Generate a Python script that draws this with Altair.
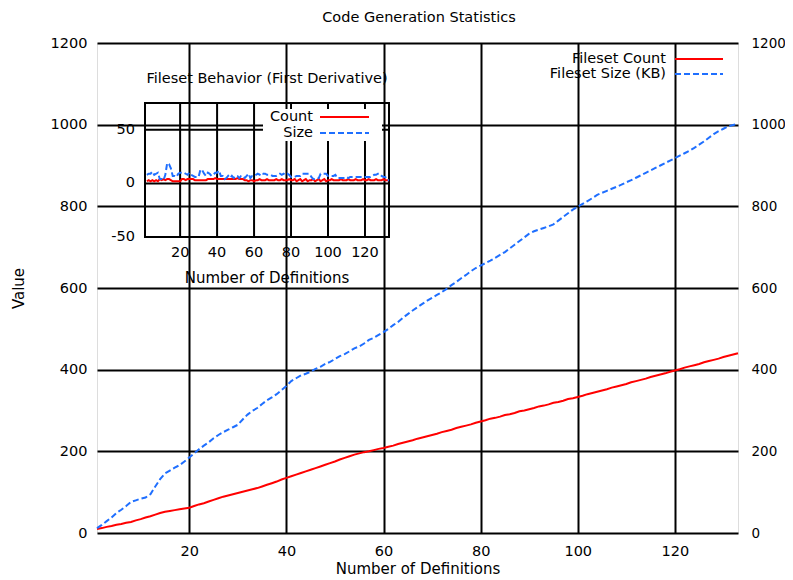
import altair as alt
import pandas as pd

# ---------------- data ----------------
definitions = list(range(1, 134))
fileset_count = [10, 12, 15, 17, 20, 22, 25, 27, 31, 34,
                 38, 41, 45, 49, 52, 54, 56, 58, 60, 62,
                 66, 70, 73, 77, 81, 85, 89, 92, 95, 98,
                 101, 104, 107, 110, 114, 118, 122, 126, 131, 135,
                 139, 143, 147, 151, 155, 159, 163, 167, 171, 175,
                 180, 184, 188, 192, 195, 198, 200, 203, 206, 208,
                 211, 214, 218, 221, 224, 227, 231, 234, 237, 240,
                 243, 247, 250, 253, 257, 260, 263, 266, 270, 273,
                 276, 280, 282, 285, 289, 291, 294, 298, 300, 303,
                 306, 310, 312, 315, 319, 321, 324, 328, 330, 333,
                 336, 340, 343, 346, 349, 352, 356, 359, 362, 365,
                 369, 372, 375, 378, 382, 385, 388, 391, 395, 398,
                 401, 405, 408, 411, 414, 418, 421, 424, 427, 431,
                 434, 437, 440]
fileset_size = [12, 20, 29, 38, 49, 57, 66, 76, 80, 84,
                87, 95, 114, 132, 146, 153, 160, 166, 175, 185,
                195, 205, 214, 222, 232, 240, 247, 253, 259, 265,
                278, 290, 299, 306, 316, 325, 332, 340, 350, 360,
                372, 379, 386, 390, 395, 402, 407, 414, 419, 426,
                433, 438, 445, 452, 457, 464, 473, 478, 485, 492,
                500, 509, 517, 527, 536, 545, 553, 561, 569, 576,
                583, 590, 598, 607, 615, 624, 632, 641, 649, 655,
                661, 667, 674, 681, 688, 697, 706, 715, 724, 733,
                739, 743, 747, 751, 756, 765, 774, 783, 792, 799,
                806, 813, 820, 828, 833, 838, 843, 848, 853, 859,
                864, 870, 876, 882, 888, 894, 900, 906, 912, 918,
                924, 930, 936, 943, 951, 959, 968, 977, 984, 990,
                996, 999, 1002]
x_ticks = [20, 40, 60, 80, 100, 120]
y_ticks = [0, 200, 400, 600, 800, 1000, 1200]
inset_y_ticks = [-50, 0, 50]
inset_y_labels = ["-50", "0", "50"]
inset_grid_y = [0, 50]

FONT = "DejaVu Sans"
RED = "#ff0000"
BLUE = "#1f6fff"
FS = 14.5

main_df = pd.DataFrame({"defs": definitions, "count": fileset_count, "size": fileset_size})
deriv_df = main_df.assign(dcount=main_df["count"].diff(), dsize=main_df["size"].diff()).dropna()
one = pd.DataFrame({"k": [0]})
xt_df = pd.DataFrame({"t": x_ticks})
yt_df = pd.DataFrame({"v": inset_y_ticks, "lbl": inset_y_labels})

lab = dict(labelFont=FONT, labelColor="black", format="d",
           titleFont=FONT, titleFontSize=15, titleFontWeight="normal", titleColor="black")

# ---------------- main plot ----------------
def main_x():
    return alt.X("defs:Q", scale=alt.Scale(domain=[1, 133], nice=False, zero=False),
                 axis=alt.Axis(orient="bottom", values=x_ticks, grid=True, gridColor="black",
                               gridWidth=2, gridOpacity=1, domain=False, ticks=False, tickSize=0,
                               labelPadding=11, labelFontSize=FS, title="Number of Definitions",
                               titleX=320.5, titleY=35, titleBaseline="middle", titleAlign="center",
                               titleAnchor="middle", **lab))

def main_y(field):
    return alt.Y(field, scale=alt.Scale(domain=[0, 1200], nice=False, zero=False),
                 axis=alt.Axis(orient="left", values=y_ticks, grid=True, gridColor="black",
                               gridWidth=2, gridOpacity=1, domain=False, ticks=False, tickSize=0,
                               labelPadding=10, labelFontSize=FS, title="Value", titleAngle=270,
                               titleX=-79, titleY=245, titleBaseline="middle", titleAlign="center",
                               **lab))

count_line = alt.Chart(main_df).mark_line(color=RED, strokeWidth=2).encode(
    x=main_x(), y=main_y("count:Q"))
size_line = alt.Chart(main_df).mark_line(color=BLUE, strokeWidth=2, strokeDash=[6, 3]).encode(
    x=main_x(), y=main_y("size:Q"))

def legend_text(txt, x, y):
    return alt.Chart(one).mark_text(align="right", baseline="middle", font=FONT,
                                    fontSize=FS, color="black").encode(
        x=alt.value(x), y=alt.value(y), text=alt.value(txt))

def legend_line(x1, x2, y, color, dash=None):
    kw = dict(color=color, strokeWidth=2)
    if dash:
        kw["strokeDash"] = dash
    return alt.Chart(one).mark_rule(**kw).encode(
        x=alt.value(x1), x2=alt.value(x2), y=alt.value(y))

main_layer = alt.layer(
    count_line, size_line,
    legend_text("Fileset Count", 569, 16), legend_line(578, 626, 16, RED),
    legend_text("Fileset Size (KB)", 569, 31), legend_line(578, 626, 31, BLUE, [6, 3]),
)

# ---------------- inset ----------------
ix_scale = alt.Scale(domain=[1, 133], range=[48, 292], nice=False, zero=False)
iy_scale = alt.Scale(domain=[-50, 75], range=[194, 60], nice=False, zero=False)

inset_vgrid = alt.Chart(xt_df).mark_rule(color="black", strokeWidth=2).encode(
    x=alt.X("t:Q", scale=ix_scale, axis=None),
    y=alt.Y(datum=-50, scale=iy_scale, axis=None), y2=alt.Y2(datum=75))
inset_hgrid = alt.Chart(pd.DataFrame({"v": inset_grid_y})).mark_rule(color="black", strokeWidth=2).encode(
    y=alt.Y("v:Q", scale=iy_scale, axis=None),
    x=alt.X(datum=1, scale=ix_scale, axis=None), x2=alt.X2(datum=133))
key_box = alt.Chart(one).mark_rect(color="white").encode(
    x=alt.value(166), x2=alt.value(285), y=alt.value(66), y2=alt.value(98))
inset_frame = alt.Chart(one).mark_rect(fillOpacity=0, stroke="black", strokeWidth=2).encode(
    x=alt.X(datum=1, scale=ix_scale, axis=None), x2=alt.X2(datum=133),
    y=alt.Y(datum=-50, scale=iy_scale, axis=None), y2=alt.Y2(datum=75))

# inset tick labels, placed through the inset scales
inset_xlabels = alt.Chart(xt_df).mark_text(align="center", baseline="middle", dy=16, font=FONT,
                                           fontSize=FS, color="black").encode(
    x=alt.X("t:Q", scale=ix_scale, axis=None),
    y=alt.Y(datum=-50, scale=iy_scale, axis=None),
    text=alt.Text("t:Q", format="d"))
inset_ylabels = alt.Chart(yt_df).mark_text(align="right", baseline="middle", dx=-10, font=FONT,
                                           fontSize=FS, color="black").encode(
    y=alt.Y("v:Q", scale=iy_scale, axis=None),
    x=alt.X(datum=1, scale=ix_scale, axis=None),
    text=alt.Text("lbl:N"))
inset_xtitle = alt.Chart(one).mark_text(align="center", baseline="middle", font=FONT,
                                        fontSize=15, color="black").encode(
    x=alt.value(170), y=alt.value(235), text=alt.value("Number of Definitions"))

dcount_line = alt.Chart(deriv_df).mark_line(color=RED, strokeWidth=2).encode(
    x=alt.X("defs:Q", scale=ix_scale, axis=None), y=alt.Y("dcount:Q", scale=iy_scale, axis=None))
dsize_line = alt.Chart(deriv_df).mark_line(color=BLUE, strokeWidth=2, strokeDash=[6, 3]).encode(
    x=alt.X("defs:Q", scale=ix_scale, axis=None), y=alt.Y("dsize:Q", scale=iy_scale, axis=None))

inset_title = alt.Chart(one).mark_text(align="center", baseline="middle", font=FONT,
                                       fontSize=FS, color="black").encode(
    x=alt.value(170), y=alt.value(36), text=alt.value("Fileset Behavior (First Derivative)"))

inset_layer = alt.layer(
    inset_vgrid, inset_hgrid, key_box, inset_frame, dcount_line, dsize_line,
    inset_xlabels, inset_ylabels, inset_xtitle,
    legend_text("Count", 216, 74), legend_line(223, 272, 74, RED),
    legend_text("Size", 216, 90), legend_line(223, 272, 90, BLUE, [6, 3]),
    inset_title,
)

# ---------------- right mirror axis ----------------
right_axis = alt.Chart(pd.DataFrame({"v": y_ticks})).mark_point(opacity=0).encode(
    y=alt.Y("v:Q", scale=alt.Scale(domain=[0, 1200], nice=False, zero=False),
            axis=alt.Axis(orient="right", values=y_ticks, grid=False, domain=False, ticks=False,
                          tickSize=0, labelPadding=13, labelFontSize=13.5, title="", **lab)))

title_text = alt.Chart(one).mark_text(align="center", baseline="middle", font=FONT,
                                      fontSize=FS, color="black").encode(
    x=alt.value(322), y=alt.value(-25), text=alt.value("Code Generation Statistics"))

chart = alt.layer(main_layer, inset_layer, right_axis, title_text).resolve_scale(
    x="independent", y="independent"
).properties(
    width=641, height=490,
    padding={"left": 89, "top": 35, "right": 47, "bottom": 47},
    autosize=alt.AutoSizeParams(type="none"),
).configure_view(stroke="black", strokeWidth=2).configure(background="white")

chart.save("out.html", embed_options={"renderer": "svg", "actions": False})
